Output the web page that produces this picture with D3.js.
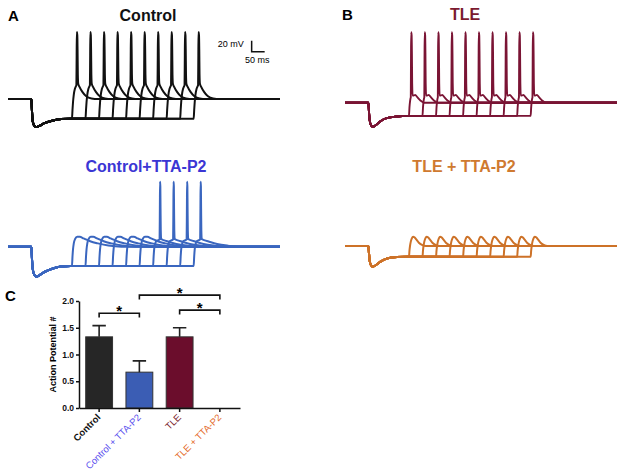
<!DOCTYPE html>
<html>
<head>
<meta charset="utf-8">
<script src="https://cdn.jsdelivr.net/npm/d3@7"></script>
<style>
  body { margin: 0; background: #fff; }
  svg { display: block; font-family: 'Liberation Sans', Arial, sans-serif; }
</style>
</head>
<body>
<div id="figure"></div>
<script>
// ---- Trace data (ms, mV) ----
const timeEnd = 1046;
const stepOn = 90;
const restPotential = -60;
const releaseTimes = [246, 298, 350, 402, 454, 506, 558, 610, 662, 714];

// hyperpolarising step, offsets from stepOn
const hyperControl = [[0, -60], [2, -80], [5, -100], [10, -108], [19, -111], [30, -109], [50, -104], [80, -99.5], [115, -96.5], [150, -96]];
const hyperTLE = [[0, -60], [2, -75], [5, -92], [10, -101], [17, -104], [28, -101], [45, -94], [70, -88], [110, -85], [150, -84]];
const hyperControlTTA = [[0, -60], [2, -80], [5, -100], [10, -110], [19, -114.5], [30, -112], [50, -106], [80, -100], [115, -96], [150, -95]];
const hyperTLETTA = [[0, -60], [2, -72], [5, -87], [10, -95], [17, -97.6], [28, -95], [45, -89], [70, -83], [110, -80], [150, -79.5]];

// rebound after release, offsets from each release time
const reboundControl = [[0, -96], [2, -80], [4, -66], [7, -52], [11, -42], [15, -37], [17, -35], [18, 20], [18.8, 62], [20.5, 56], [21.5, 30], [22.5, -15], [24, -32], [29, -38], [40, -47], [55, -55], [75, -59], [100, -60]];
const reboundTLE = [[0, -84], [2, -68], [4, -58], [6, -52], [7, -50], [7.8, 20], [8.6, 68], [10.3, 62], [11.3, 30], [12.3, -25], [14, -47], [18, -47], [24, -46], [32, -50], [44, -56], [58, -60]];
const reboundControlTTA = [[0, -95], [2, -78], [4, -65], [7, -54], [12, -46], [20, -42], [30, -42], [45, -45], [70, -50], [100, -54], [140, -58], [190, -60]];
const reboundControlTTASpike = [[0, -95], [2, -78], [4, -65], [7, -56], [12, -50], [20, -48], [25, -47], [26, 10], [26.8, 58], [27.8, 50], [28.6, 10], [29.5, -30], [31, -46], [40, -48], [60, -51], [90, -55], [130, -58], [180, -60]];
const reboundTLETTA = [[0, -79.5], [2, -68], [4, -60], [7, -52], [11, -46], [16, -43], [21, -44], [28, -48], [38, -54], [50, -58], [65, -60]];

const spikesControl = [1, 1, 1, 1, 1, 1, 1, 1, 1, 1];
const spikesTLE = [1, 1, 1, 1, 1, 1, 1, 1, 1, 1];
const spikesControlTTA = [0, 0, 0, 0, 0, 0, 1, 1, 1, 1];
const spikesTLETTA = [0, 0, 0, 0, 0, 0, 0, 0, 0, 0];

const scaleBarMs = 50;
const scaleBarMv = 20;

// ---- Bar chart data ----
const categories = ['Control', 'Control + TTA-P2', 'TLE', 'TLE + TTA-P2'];
const apMeans = [1.33, 0.67, 1.33, 0];
const apErrors = [0.21, 0.21, 0.17, 0];
const yTicks = [0, 0.5, 1.0, 1.5, 2.0];
// [from, to, level]
const brackets = [[0, 1, 1.77], [1, 3, 2.11], [2, 3, 1.83]];

// ---- Figure ----
const svg = d3.select('#figure').append('svg')
    .attr('width', 625)
    .attr('height', 475);

svg.append('rect').attr('width', 625).attr('height', 475).attr('fill', '#fff');

const panels = [
    {title: 'Control', letter: 'A', x0: 8, x1: 280, yRest: 99, color: '#111', titleColor: '#111', tx: 148, ty: 20.5, lx: 8, ly: 20.5,
     hyper: hyperControl, spikes: spikesControl, rb: reboundControl, rbSpike: reboundControl, width: 2},
    {title: 'TLE', letter: 'B', x0: 345, x1: 617, yRest: 102.7, color: '#7a1434', titleColor: '#7b1a30', tx: 465, ty: 20, lx: 342, ly: 20,
     hyper: hyperTLE, spikes: spikesTLE, rb: reboundTLE, rbSpike: reboundTLE, width: 1.9},
    {title: 'Control+TTA-P2', letter: '', x0: 8, x1: 280, yRest: 246.7, color: '#3a66bf', titleColor: '#3b36d4', tx: 146, ty: 172,
     hyper: hyperControlTTA, spikes: spikesControlTTA, rb: reboundControlTTA, rbSpike: reboundControlTTASpike, width: 2},
    {title: 'TLE + TTA-P2', letter: '', x0: 345, x1: 617, yRest: 246, color: '#cd7228', titleColor: '#cf7a30', tx: 464, ty: 172,
     hyper: hyperTLETTA, spikes: spikesTLETTA, rb: reboundTLETTA, rbSpike: reboundTLETTA, width: 2}
];

panels.forEach(p => {
    const t = d3.scaleLinear().domain([0, timeEnd]).range([p.x0, p.x1]);
    const v = d3.scaleLinear().domain([-60, 60]).range([p.yRest, p.yRest - 66]);
    p.t = t; p.v = v;

    const line = d3.line()
        .x(d => t(d[0]))
        .y(d => v(d[1]))
        .curve(d3.curveMonotoneX);

    const g = svg.append('g');
    releaseTimes.forEach((r, i) => {
        const rebound = p.spikes[i] ? p.rbSpike : p.rb;
        const pts = [[0, restPotential]]
            .concat(p.hyper.map(d => [stepOn + d[0], d[1]]))
            .concat(rebound.map(d => [r + d[0], d[1]]))
            .concat([[timeEnd, restPotential]]);
        g.append('path')
            .datum(pts)
            .attr('d', line)
            .attr('fill', 'none')
            .attr('stroke', p.color)
            .attr('stroke-width', p.width)
            .attr('stroke-linejoin', 'round');
    });

    svg.append('text')
        .attr('x', p.tx).attr('y', p.ty)
        .attr('text-anchor', 'middle')
        .style('font-size', '16px')
        .style('font-weight', 'bold')
        .attr('fill', p.titleColor)
        .text(p.title);

    if (p.letter) {
        svg.append('text')
            .attr('x', p.lx).attr('y', p.ly)
            .style('font-size', '15px')
            .style('font-weight', 'bold')
            .text(p.letter);
    }
});

// Scale bar (panel A units)
const pA = panels[0];
const sbT = 937, sbV = 26;
svg.append('path')
    .attr('d', `M${pA.t(sbT)},${pA.v(sbV + scaleBarMv)}V${pA.v(sbV)}H${pA.t(sbT + scaleBarMs)}`)
    .attr('fill', 'none')
    .attr('stroke', '#111')
    .attr('stroke-width', 1.5);
svg.append('text')
    .attr('x', pA.t(sbT) - 8).attr('y', 46.5)
    .attr('text-anchor', 'end')
    .style('font-size', '9px')
    .text(`${scaleBarMv} mV`);
svg.append('text')
    .attr('x', 245).attr('y', 63)
    .style('font-size', '9px')
    .text(`${scaleBarMs} ms`);

// ---- Panel C: bar chart ----
svg.append('text')
    .attr('x', 5).attr('y', 300.5)
    .style('font-size', '15px')
    .style('font-weight', 'bold')
    .text('C');

const barFill = ['#262626', '#3b5db4', '#6b0d2c', '#e07030'];
const labelColor = ['#111', '#5a50ee', '#7a1c2c', '#e46a2a'];

const x = d3.scaleBand()
    .domain(categories)
    .range([79, 240])
    .paddingInner(0.333)
    .paddingOuter(0.1667);

const y = d3.scaleLinear()
    .domain([0, 2])
    .range([408, 301]);

const chart = svg.append('g');

chart.selectAll('rect.bar')
    .data(categories)
  .enter().append('rect')
    .attr('class', 'bar')
    .attr('x', d => x(d))
    .attr('y', (d, i) => y(apMeans[i]))
    .attr('width', x.bandwidth())
    .attr('height', (d, i) => y(0) - y(apMeans[i]))
    .attr('fill', (d, i) => barFill[i])
    .attr('stroke', '#333')
    .attr('stroke-width', 1);

// Error bars (upper only)
categories.forEach((c, i) => {
    if (apErrors[i] <= 0) return;
    const cx = x(c) + x.bandwidth() / 2;
    const half = x.bandwidth() / 4;
    chart.append('path')
        .attr('d', `M${cx},${y(apMeans[i])}V${y(apMeans[i] + apErrors[i])}M${cx - half},${y(apMeans[i] + apErrors[i])}H${cx + half}`)
        .attr('fill', 'none')
        .attr('stroke', '#222')
        .attr('stroke-width', 1.6);
});

// Axes
const yAxis = chart.append('g')
    .attr('transform', 'translate(79,0)')
    .call(d3.axisLeft(y).tickValues(yTicks).tickFormat(d3.format('.1f')).tickSize(3).tickSizeOuter(0).tickPadding(2));
yAxis.selectAll('text').style('font-size', '8.5px').style('font-weight', 'bold').attr('fill', '#111');
yAxis.selectAll('path, line').attr('stroke', '#111').attr('stroke-width', 1.5);

const xAxis = chart.append('g')
    .attr('transform', 'translate(0,408)')
    .call(d3.axisBottom(x).tickSize(4).tickSizeOuter(0).tickFormat(''));
xAxis.selectAll('path, line').attr('stroke', '#111').attr('stroke-width', 1.5);

chart.append('text')
    .attr('transform', `translate(56,${(y(0) + y(2)) / 2}) rotate(-90)`)
    .attr('text-anchor', 'middle')
    .style('font-size', '9px')
    .style('font-weight', 'bold')
    .text('Action Potential #');

// Rotated category labels
chart.selectAll('text.cat')
    .data(categories)
  .enter().append('text')
    .attr('class', 'cat')
    .attr('transform', d => `translate(${x(d) + x.bandwidth() / 2 + 2},${418}) rotate(-45)`)
    .attr('text-anchor', 'end')
    .style('font-size', '9.5px')
    .style('font-weight', (d, i) => i === 0 ? 'bold' : 'normal')
    .attr('fill', (d, i) => labelColor[i])
    .text(d => d);

// Significance brackets
brackets.forEach(b => {
    const xa = x(categories[b[0]]) + x.bandwidth() / 2;
    const xb = x(categories[b[1]]) + x.bandwidth() / 2;
    const yl = y(b[2]);
    const drop = y(b[2] - 0.08);
    chart.append('path')
        .attr('d', `M${xa},${drop}V${yl}H${xb}V${drop}`)
        .attr('fill', 'none')
        .attr('stroke', '#111')
        .attr('stroke-width', 1.6);
    chart.append('text')
        .attr('x', (xa + xb) / 2).attr('y', yl + 3)
        .attr('text-anchor', 'middle')
        .style('font-size', '15px')
        .style('font-weight', 'bold')
        .text('*');
});
</script>
</body>
</html>
